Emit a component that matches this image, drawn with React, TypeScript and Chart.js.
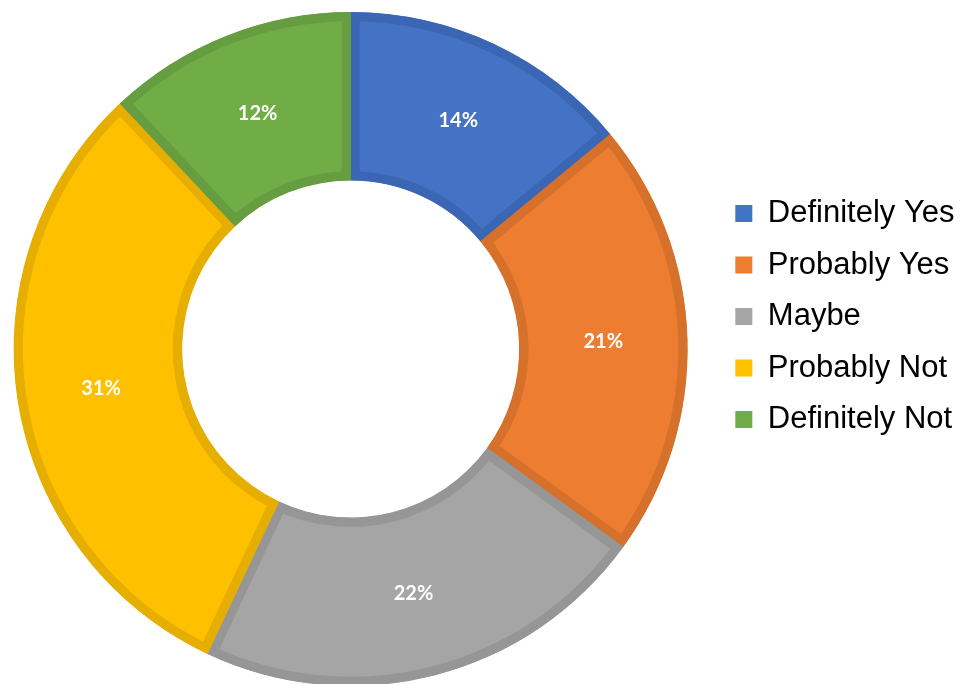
import React, { useEffect, useRef } from "react";
import { Chart, registerables } from "chart.js";

Chart.register(...registerables);

const categories = ["Definitely Yes", "Probably Yes", "Maybe", "Probably Not", "Definitely Not"];
const values = [14, 21, 22, 31, 12];
const fillColors = ["#4472C4", "#ED7D31", "#A5A5A5", "#FFC000", "#70AD47"];
const borderColors = ["#3B66B3", "#D6712C", "#969696", "#E6AE00", "#659D40"];

const sliceLabels = {
  id: "sliceLabels",
  afterDatasetsDraw(chart: any) {
    const ctx = chart.ctx;
    const meta = chart.getDatasetMeta(0);
    ctx.save();
    ctx.fillStyle = "#FFFFFF";
    ctx.font = "bold 20px Lato, 'Open Sans', sans-serif";
    ctx.textAlign = "center";
    ctx.textBaseline = "middle";
    meta.data.forEach((arc: any, i: number) => {
      const p = arc.tooltipPosition(false);
      ctx.fillText(values[i] + "%", p.x, p.y);
    });
    ctx.restore();
  },
};

export default function App() {
  const ref = useRef<HTMLCanvasElement | null>(null);

  useEffect(() => {
    if (!ref.current) return;
    const chart = new Chart(ref.current, {
      type: "doughnut",
      data: {
        labels: categories,
        datasets: [
          {
            data: values,
            backgroundColor: fillColors,
            borderColor: borderColors,
            borderWidth: 9,
            borderAlign: "inner",
            borderJoinStyle: "miter",
            radius: 337,
            cutout: "50%",
            hoverOffset: 0,
            clip: false,
          } as any,
        ],
      },
      options: {
        responsive: false,
        animation: false,
        events: [],
        layout: { padding: { left: 2.5, right: 19.5, top: 0, bottom: 51 } },
        plugins: {
          tooltip: { enabled: false },
          title: {
            display: true,
            text: " ",
            position: "top",
            fullSize: false,
            font: { size: 10, lineHeight: 1 },
            padding: { top: 0, bottom: 55 },
          },
          legend: {
            display: true,
            position: "right",
            align: "center",
            labels: {
              boxWidth: 17,
              boxHeight: 17,
              padding: 20.5,
              color: "#000000",
              font: { family: "'Liberation Sans', Arial, sans-serif", size: 31 },
              generateLabels: () =>
                categories.map((c, i) => ({
                  text: c,
                  fillStyle: fillColors[i],
                  strokeStyle: fillColors[i],
                  lineWidth: 0,
                  hidden: false,
                  index: i,
                  fontColor: "#000000",
                })),
            },
          },
        },
      },
      plugins: [sliceLabels],
    });
    return () => chart.destroy();
  }, []);

  return (
    <div style={{ position: "fixed", left: 0, top: 0, width: 970, height: 684, background: "#FFFFFF", overflow: "hidden" }}>
      <canvas ref={ref} width={1000} height={684} style={{ display: "block", position: "absolute", left: -16, top: 0 }} />
    </div>
  );
}
